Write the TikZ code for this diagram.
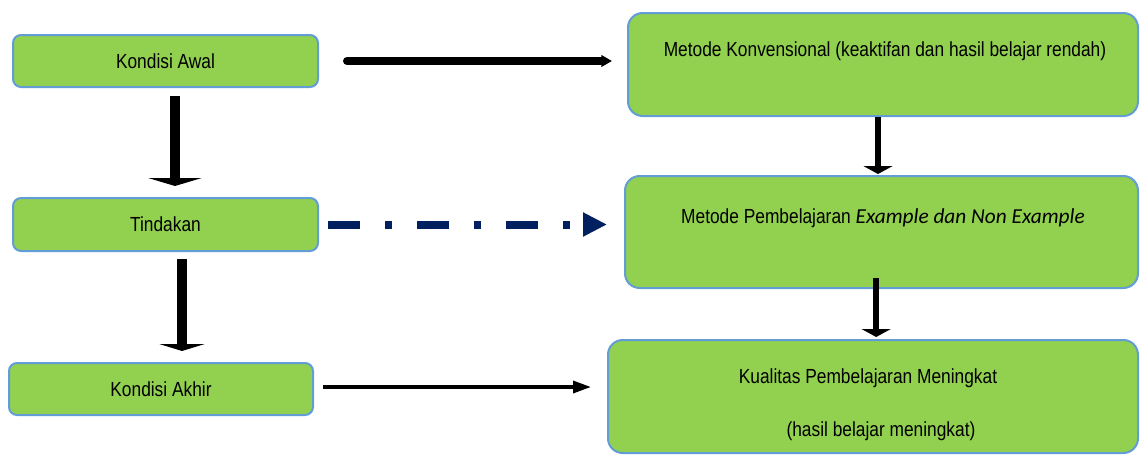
\documentclass[tikz,border=0pt]{standalone}
\usepackage{fontspec}
\setmainfont{Liberation Sans}[FakeStretch=0.85]
\newfontfamily\exfont{Carlito}
\usetikzlibrary{arrows.meta}

\definecolor{boxgreen}{RGB}{146,208,80}
\definecolor{boxblue}{RGB}{98,157,214}
\definecolor{navyline}{RGB}{0,32,96}

\tikzset{every picture/.style={line width=0.75pt}}
\tikzset{
    smallbox/.style={draw=boxblue, fill=boxgreen, line width=1.5pt, rounded corners=6pt, inner sep=0pt, font=\fontsize{15.3}{18}\selectfont},
    bigbox/.style={smallbox, rounded corners=11pt},
    boxtext/.style={inner sep=0pt, font=\fontsize{15.3}{18}\selectfont},
    thickdown/.style={line width=7pt, -{Triangle[width=40pt,length=6pt]}},
    slimdown/.style={line width=4.5pt, -{Triangle[width=21.75pt,length=6pt]}}
}

\begin{document}
\begin{tikzpicture}[x=0.75pt,y=0.75pt,yscale=-1,xscale=1]
        \useasboundingbox (0,0) rectangle (1140,454);

        \node [smallbox, minimum width=228.75pt, minimum height=39pt] (awal) at (165.5,61) {Kondisi Awal};
        \node [smallbox, minimum width=228.75pt, minimum height=39.75pt] (tindakan) at (165.5,224.5) {Tindakan};
        \node [smallbox, minimum width=228pt, minimum height=39pt] (akhir) at (161,389) {Kondisi Akhir};

        \node [bigbox, minimum width=382.5pt, minimum height=77.25pt] (konv) at (883,64.5) {};
        \node [bigbox, minimum width=384.75pt, minimum height=84pt] (metode) at (881.5,232) {};
        \node [bigbox, minimum width=397.5pt, minimum height=84.75pt] (kualitas) at (873,396.5) {};

        \node [boxtext] (konvtext) at (885,51) {Metode Konvensional (keaktifan dan hasil belajar rendah)};
        \node [boxtext] (metodetext) at (883,218) {Metode Pembelajaran {\exfont\itshape\fontsize{16}{18}\selectfont Example dan Non Example}};
        \node [boxtext] (kualitastext) at (868,378) {Kualitas Pembelajaran Meningkat};
        \node [boxtext] (hasiltext) at (881,431) {(hasil belajar meningkat)};

        \draw [line width=6pt, line cap=round, shorten <=21pt, shorten >=11.25pt, -{Triangle[width=8.5pt,length=8pt]}] (awal.east) -- (awal.east -| konv.west);
        \draw [navyline, line width=6pt, dash pattern=on 24pt off 18.75pt on 5.25pt off 18.75pt, shorten <=6.75pt, shorten >=12.75pt, -{Triangle[width=17pt,length=18pt]}] (tindakan.east) -- (tindakan.east -| metode.west);
        \draw [line width=2.5pt, shorten <=6.75pt, shorten >=12pt, -{Triangle[width=9pt,length=13.5pt]}] ([yshift=-1.5pt]akhir.east) -- ([yshift=-1.5pt]akhir.east -| kualitas.west);

        \draw [thickdown, shorten <=6pt, shorten >=8.25pt] ([xshift=7.1pt]awal.south) -- ([xshift=7.1pt]awal.south |- tindakan.north);
        \draw [thickdown, -{Triangle[width=34pt,length=5.25pt]}, shorten <=5.25pt, shorten >=8.25pt] ([xshift=12.4pt]tindakan.south) -- ([xshift=12.4pt]tindakan.south |- akhir.north);
        \draw [slimdown, shorten >=0.75pt] ([xshift=-3.75pt]konv.south) -- ([xshift=-3.75pt]konv.south |- metode.north);
        \draw [slimdown, shorten <=-8.25pt, shorten >=1.5pt] ([xshift=-4pt]metode.south) -- ([xshift=-4pt]metode.south |- kualitas.north);

\end{tikzpicture}
\end{document}
